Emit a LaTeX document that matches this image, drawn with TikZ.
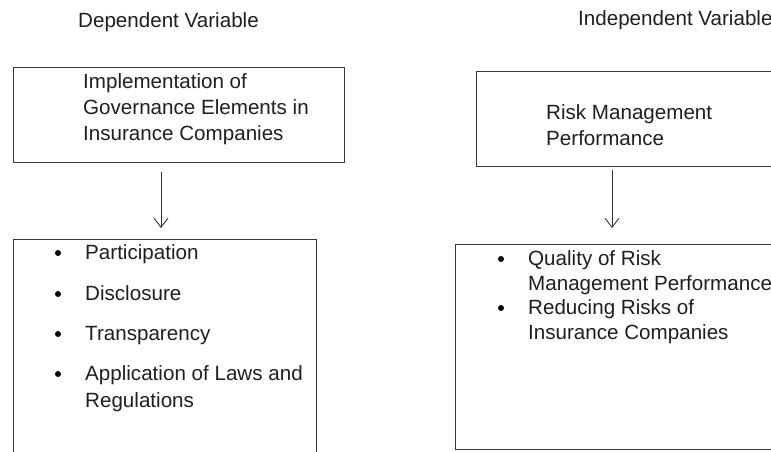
\documentclass[tikz,border=0pt]{standalone}
\usepackage{fontspec}
\setmainfont{Liberation Sans}
\usetikzlibrary{arrows.meta}
\begin{document}
\begin{tikzpicture}[x=1pt,y=-1pt,
  boxline/.style={draw=black!78,line width=1pt},
  txt/.style={anchor=base west,inner sep=0pt,text=black!88,font=\fontsize{20.6}{25}\selectfont},
  dot/.style={circle,fill=black,inner sep=0pt,minimum size=6pt},
  arr/.style={draw=black!80,line width=0.9pt,-{Straight Barb[length=9pt,width=14pt]}}]
\useasboundingbox (0,0) rectangle (771,451);
\clip (0,0) rectangle (771,451);
% headings
\node[txt] (hd) at (78,27) {Dependent Variable};
\node[txt] (hi) at (578,25) {Independent Variable};
% boxes
\draw[boxline] (13,67) rectangle (344,162);
\draw[boxline] (13,239) rectangle (316,470);
\draw[boxline] (476,71) rectangle (790,166);
\draw[boxline] (455,244) rectangle (790,449);
% top-left text
\node[txt] (t1) at (83,88) {Implementation of};
\node[txt] (t2) at (83,114) {Governance Elements in};
\node[txt] (t3) at (83,140) {Insurance Companies};
% top-right text
\node[txt] (r1) at (546,119) {Risk Management};
\node[txt] (r2) at (546,145) {Performance};
% arrows
\coordinate (la) at (161,172);
\coordinate (lb) at (161,228);
\coordinate (ra) at (612,170);
\coordinate (rb) at (612,228);
\draw[arr] (la) -- (lb);
\draw[arr] (ra) -- (rb);
% left bullets
\node[txt] (b1) at (85,259) {Participation};
\node[txt] (b2) at (85,300) {Disclosure};
\node[txt] (b3) at (85,340) {Transparency};
\node[txt] (b4) at (85,380) {Application of Laws and};
\node[txt] (b5) at (85,407) {Regulations};
\node[dot] (d1) at (58,253) {};
\node[dot] (d2) at (58,294) {};
\node[dot] (d3) at (58,334) {};
\node[dot] (d4) at (58,374) {};
% right bullets
\node[txt] (q1) at (528,265) {Quality of Risk};
\node[txt] (q2) at (528,290) {Management Performance};
\node[txt] (q3) at (528,314) {Reducing Risks of};
\node[txt] (q4) at (528,339) {Insurance Companies};
\node[dot] (e1) at (501,259) {};
\node[dot] (e3) at (501,308) {};
\end{tikzpicture}
\end{document}
